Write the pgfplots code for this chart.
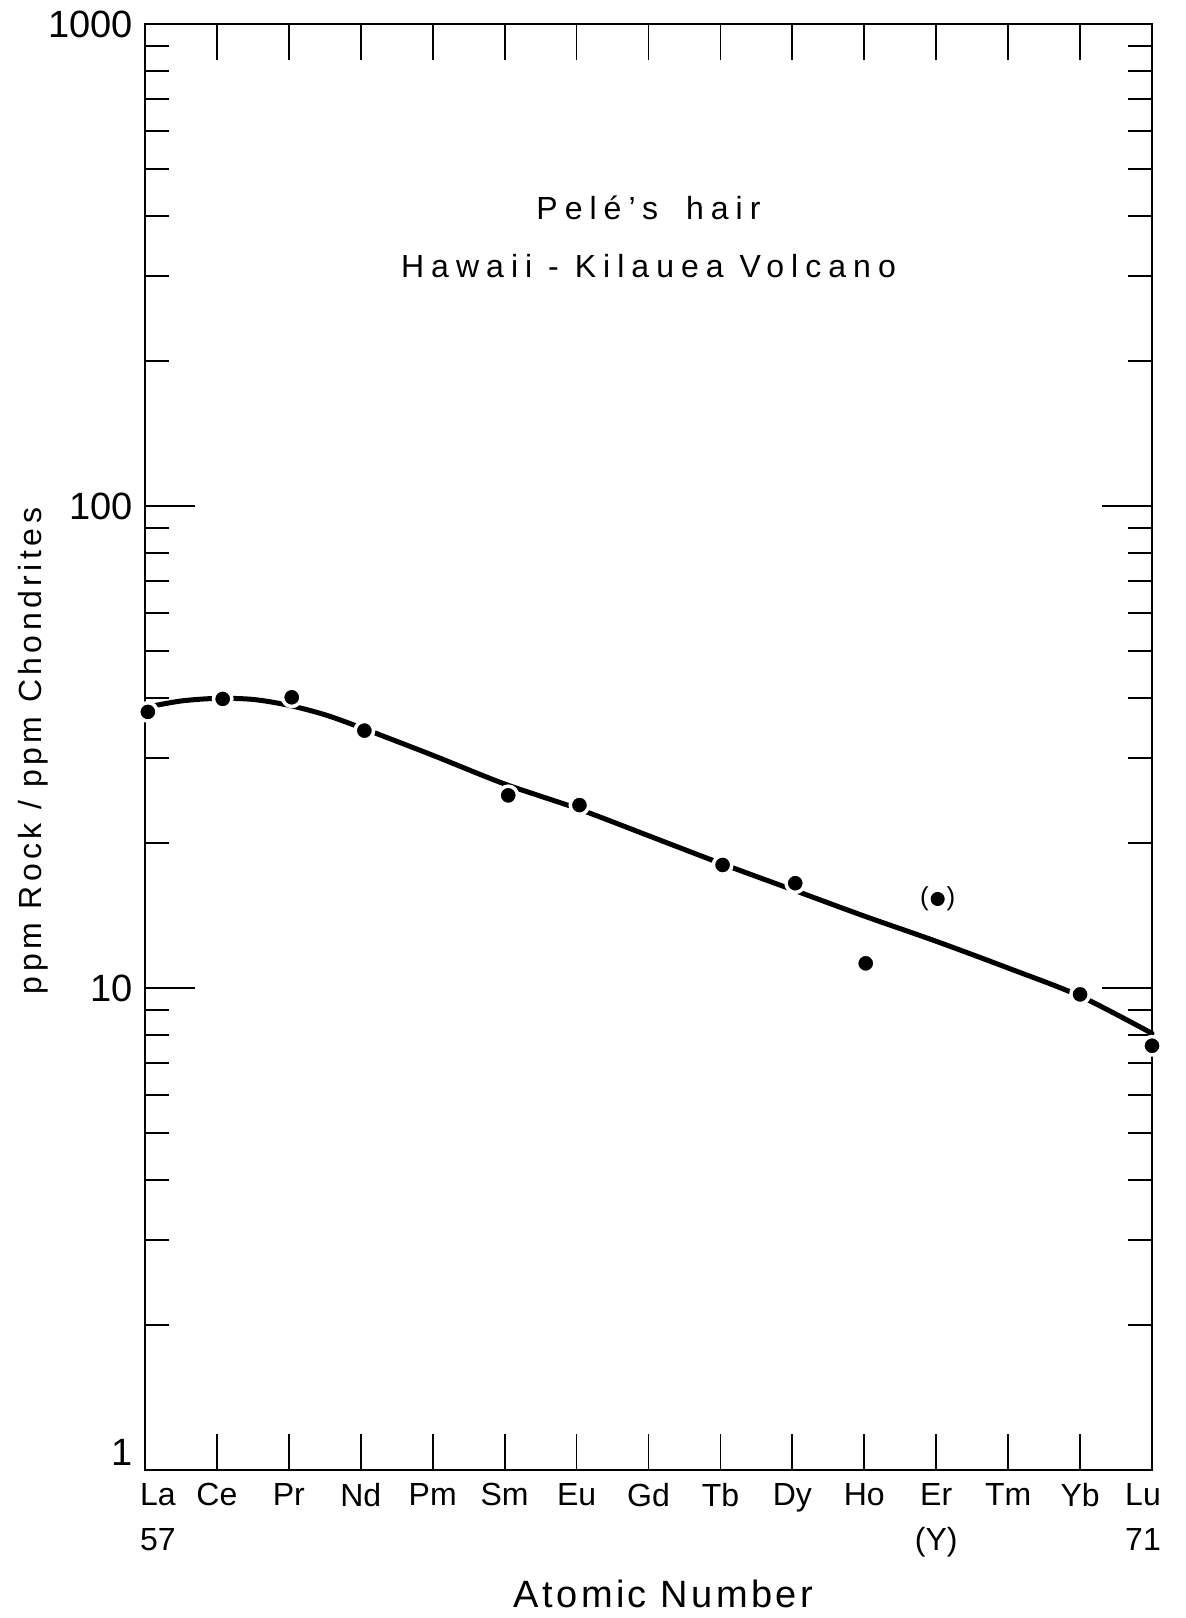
\documentclass[border=0pt]{standalone}
\usepackage{fontspec}
\setmainfont{Liberation Sans}
\newfontfamily\titlefont[LetterSpace=22]{Liberation Sans}
\newfontfamily\labelfont[LetterSpace=14]{Liberation Sans}
\newfontfamily\xlabelfont[LetterSpace=9]{Liberation Sans}
\usepackage{pgfplots}
\pgfplotsset{compat=1.18}

\begin{document}
\begin{tikzpicture}
\begin{axis}[
  name=ree,
  scale only axis,
  width=503.5pt, height=723pt,
  xmin=57, xmax=71,
  ymode=log, ymin=1, ymax=1000,
  clip=false,
  axis line style={line width=1pt},
  tick style={black, line width=0.9pt},
  major tick length=25pt,
  minor tick length=12pt,
  xtick style={/pgfplots/major tick length=18pt},
  xtick={57,...,71},
  xticklabels={{\hspace*{13pt}La\\\hspace*{13pt}57}, Ce, Pr, Nd, Pm, Sm, Eu, Gd, Tb, Dy, Ho, {Er\\(Y)}, Tm, Yb, {Lu\hspace*{9pt}\\71\hspace*{9pt}}},
  xticklabel style={align=center, anchor=north, inner sep=0pt, yshift=-6.5pt, font=\fontsize{16}{22.5}\selectfont},
  ytick={1,10,100,1000},
  yticklabels={\raisebox{9pt}[\height][\depth]{1},10,100,1000},
  minor ytick={2,...,9,20,30,...,90,200,300,...,900},
  yticklabel style={anchor=east, inner sep=0pt, xshift=-6pt, font=\fontsize{19}{22}\selectfont},
]
% fitted chondrite-normalised trend
\addplot[smooth, line width=2.5pt, line cap=round] coordinates {
  (57,38.2) (57.5,39.4) (58,39.9) (58.5,39.7) (59,38.6) (59.5,36.9)
  (60,34.7) (61,30.4) (62,26.5) (63,23.6) (64,20.7) (65,18.15)
  (66,16.0) (67,14.1) (68,12.5) (69,11.0) (70,9.62) (71,8.05)
};
% measured REE abundances
\addplot[only marks, mark=*, mark size=4.6pt,
  mark options={fill=black, draw=white, line width=1.75pt}] coordinates {
  (57.04,37.4) (58.08,39.8) (59.04,40.1) (60.05,34.2) (62.05,25.1)
  (63.04,23.96) (65.03,18.0) (66.04,16.5) (67.02,11.25) (70.0,9.70) (71.0,7.59)
};
% Er (Y) value, uncertain
\addplot[only marks, mark=*, mark size=3.3pt,
  mark options={fill=black, draw=none}] coordinates {(68.02,15.3)};
\node[font=\fontsize{13}{15}\selectfont] at (axis cs:68.02,15.3) {(\hspace*{9pt})};

\node[anchor=base, font=\titlefont\fontsize{16}{19}\selectfont]
  at (rel axis cs:0.5,0.8651) {Pelé’s\hspace{6pt} hair};
\node[anchor=base, font=\titlefont\fontsize{16}{19}\selectfont]
  at (rel axis cs:0.5,0.8250) {Hawaii - Kilauea Volcano};

\node[rotate=90, anchor=base, font=\labelfont\fontsize{16}{19}\selectfont]
  at ([xshift=-51.5pt, yshift=-2pt]rel axis cs:0,0.5) {ppm Rock / ppm Chondrites};
\node[anchor=base, font=\xlabelfont\fontsize{19}{22}\selectfont]
  at ([xshift=7.5pt, yshift=-68.5pt]rel axis cs:0.5,0) {Atomic Number};
\end{axis}
\pgfresetboundingbox
\path ([xshift=-72.5pt, yshift=-74pt]ree.south west) rectangle ([xshift=17pt, yshift=12pt]ree.north east);
\end{tikzpicture}
\end{document}
